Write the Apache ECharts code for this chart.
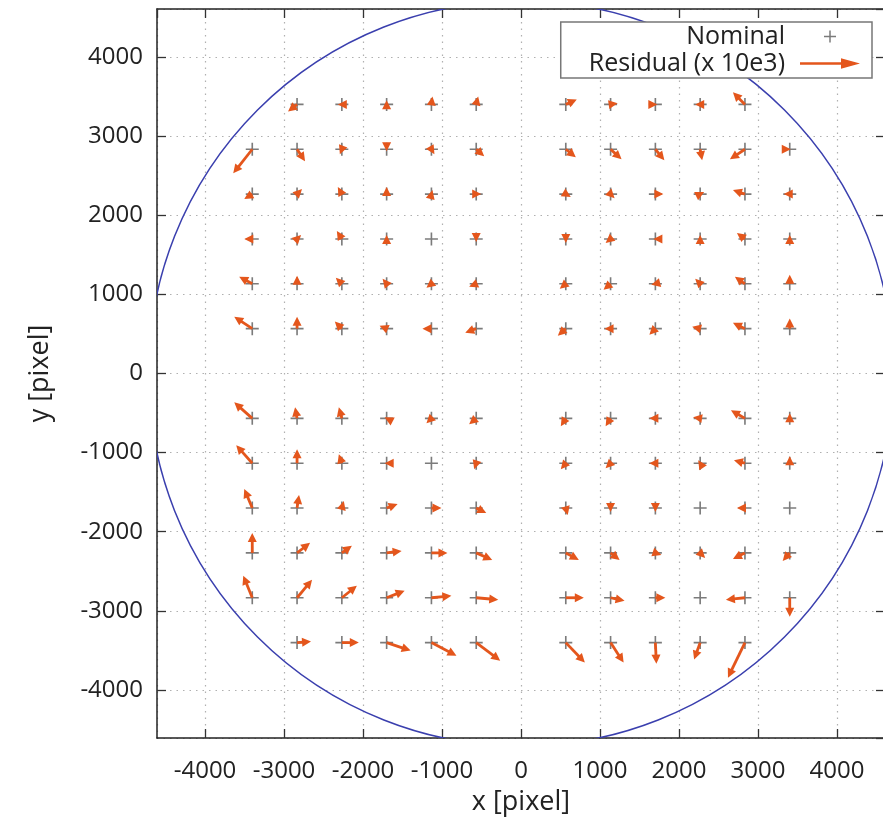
<!DOCTYPE html>
<html>
<head>
<meta charset="utf-8">
<script src="https://cdn.jsdelivr.net/npm/echarts@6/dist/echarts.min.js"></script>
<style>
  html, body { margin: 0; padding: 0; background: #fff; }
  #chart { width: 883px; height: 835px; }
</style>
</head>
<body>
<div id="chart"></div>
<script>
// nominal grid positions, same on both axes
const gridPos = [-3402, -2835, -2268, -1701, -1134, -567, 567, 1134, 1701, 2268, 2835, 3402];
// row y values, top to bottom
const rowY = [3402, 2835, 2268, 1701, 1134, 567, -567, -1134, -1701, -2268, -2835, -3402];

// residuals, already multiplied by 10e3 (axis units); null = no point there
const resX = [
  [null, -114, -51, 0, 13, 25, 139, 89, 25, -63, -152, null],
  [-241, 101, -25, 0, 38, 101, 127, 139, 114, 25, -190, 13],
  [-101, 63, -51, 0, 13, 63, 63, 51, 101, 51, -152, -76],
  [-101, 51, -63, 0, 0, 0, 0, -63, -25, 0, -101, 0],
  [-165, 0, -76, -51, -63, -89, -76, -89, -51, -63, -127, 0],
  [-228, 0, -89, -89, -114, -139, -101, -76, -76, -101, -152, 0],
  [-228, -25, -38, -25, -63, -89, -63, -63, -76, -89, -177, 0],
  [-203, 0, -38, -25, 0, -25, -63, -63, -76, -25, -139, 0],
  [-101, 25, 25, 139, 127, 127, 25, 0, 0, 0, -101, 0],
  [0, 165, 127, 190, 203, 203, 165, 114, 76, 63, -152, -89],
  [-114, 190, 190, 228, 253, 279, 228, 177, 127, 0, -241, 0],
  [null, 177, 215, 304, 317, 304, 241, 165, 13, -76, -215, null]
];
const resY = [
  [null, -89, 0, 51, 101, 101, 63, 13, 0, 0, 152, null],
  [-304, -152, -63, -25, -63, -89, -101, -127, -139, -139, -127, 0],
  [-63, 63, 89, 89, 51, 0, -38, -51, 0, 25, 51, 0],
  [0, 51, 101, 51, 0, -38, -51, -51, 0, 51, 76, 51],
  [89, 101, 76, 63, -51, -38, -63, -76, -13, 63, 89, 114],
  [152, 152, 89, 38, 0, -51, -89, 0, -76, 25, 76, 127],
  [203, 139, 139, 13, -63, -76, -101, -101, 0, 13, 101, 63],
  [228, 177, 114, 0, 0, -76, -76, -63, 0, 38, 38, 89],
  [241, 165, 89, 51, 0, -63, -89, -51, -51, 0, 0, 0],
  [253, 127, 89, 25, 0, -89, -89, -89, -25, -63, -76, -101],
  [279, 228, 152, 89, 25, -25, 0, -38, 0, 0, -25, -241],
  [null, 13, 0, -101, -165, -228, -253, -253, -266, -215, -443, null]
];

const axisMin = -4608;
const axisMax = 4608;
const circleR = 4717;

const orange = '#e4561c';
const fontFamily = '"Open Sans", "DejaVu Sans", sans-serif';
const plusIcon = 'path://M0,5.25h12v1.5h-12z M5.25,0h1.5v12h-1.5z';
const arrowIcon = 'path://M0,4h44v2.4h-44z M41,0L60,5.2L41,10.4z';

// build point lists
let nominalData = [];
let arrowData = [];
rowY.forEach((y, r) => {
  gridPos.forEach((x, c) => {
    if (resX[r][c] === null) return;
    nominalData.push([x, y]);
    arrowData.push([x, y, resX[r][c], resY[r][c]]);
  });
});

let chart = echarts.init(document.getElementById('chart'));

// shared axis settings
const axisBase = {
  type: 'value',
  min: axisMin,
  max: axisMax,
  splitNumber: 9,
  axisLine: { show: true, onZero: false, lineStyle: { color: '#222', width: 1.5 } },
  axisTick: { show: true, inside: true, length: 9, lineStyle: { color: '#333', width: 1.3 } }
};
const tickLabel = {
  fontFamily: fontFamily,
  fontSize: 24,
  color: '#222',
  showMinLabel: false,
  showMaxLabel: false,
  formatter: (v) => String(v)
};

let option = {
  animation: false,
  backgroundColor: '#fff',
  grid: { left: 157, right: -2, top: 9, bottom: 97, outerBoundsMode: 'none' },
  legend: {
    orient: 'vertical',
    right: 11,
    top: 22,
    align: 'right',
    itemWidth: 60,
    itemHeight: 12,
    itemGap: 2,
    padding: [2, 12, 2, 28],
    backgroundColor: '#fff',
    borderColor: '#777',
    borderWidth: 1.5,
    borderRadius: 0,
    textStyle: { fontFamily: fontFamily, fontSize: 25, color: '#222', padding: [0, 10, 0, 0] },
    data: [
      { name: 'Nominal', icon: plusIcon },
      { name: 'Residual (x 10e3)', icon: arrowIcon }
    ]
  },
  xAxis: [
    Object.assign({}, axisBase, {
      position: 'bottom',
      name: 'x [pixel]',
      nameLocation: 'middle',
      nameGap: 51,
      nameMoveOverlap: false,
      nameTextStyle: { fontFamily: fontFamily, fontSize: 27, color: '#222' },
      axisLabel: Object.assign({ margin: 21 }, tickLabel),
      splitLine: { show: true, lineStyle: { color: '#b0b0b0', width: 1.2, type: [1.5, 5] } }
    }),
    Object.assign({}, axisBase, {
      position: 'top',
      axisLabel: { show: false },
      splitLine: { show: false }
    })
  ],
  yAxis: [
    Object.assign({}, axisBase, {
      position: 'left',
      name: 'y [pixel]',
      nameLocation: 'middle',
      nameGap: 103,
      nameMoveOverlap: false,
      nameTextStyle: { fontFamily: fontFamily, fontSize: 27, color: '#222' },
      axisLabel: Object.assign({ margin: 14 }, tickLabel),
      splitLine: { show: true, lineStyle: { color: '#b0b0b0', width: 1.2, type: [1.5, 5] } }
    }),
    Object.assign({}, axisBase, {
      position: 'right',
      axisLabel: { show: false },
      splitLine: { show: false }
    })
  ],
  series: [
    {
      // field-of-view circle
      name: 'circle',
      type: 'custom',
      clip: true,
      silent: true,
      z: 1,
      data: [[0, 0, circleR]],
      renderItem: (params, api) => {
        let c = api.coord([api.value(0), api.value(1)]);
        let r = api.size([api.value(2), 0])[0];
        return {
          type: 'circle',
          shape: { cx: c[0], cy: c[1], r: r },
          style: { fill: 'none', stroke: '#3a3fae', lineWidth: 1.5 }
        };
      }
    },
    {
      name: 'Nominal',
      type: 'scatter',
      symbol: plusIcon,
      symbolSize: 13,
      z: 2,
      itemStyle: { color: '#5a5a5a' },
      data: nominalData
    },
    {
      name: 'Residual (x 10e3)',
      type: 'custom',
      z: 3,
      itemStyle: { color: orange },
      data: arrowData,
      renderItem: (params, api) => {
        let x = api.value(0), y = api.value(1);
        let p0 = api.coord([x, y]);
        let p1 = api.coord([x + api.value(2), y + api.value(3)]);
        let vx = p1[0] - p0[0], vy = p1[1] - p0[1];
        let len = Math.sqrt(vx * vx + vy * vy);
        if (len < 0.5) return null;
        let ux = vx / len, uy = vy / len;
        let headLen = 9, headW = 4.5;
        let bx = p1[0] - ux * headLen, by = p1[1] - uy * headLen;
        let children = [];
        if (len > headLen) {
          children.push({
            type: 'line',
            shape: { x1: p0[0], y1: p0[1], x2: bx + ux, y2: by + uy },
            style: { stroke: orange, lineWidth: 2.8 }
          });
        }
        children.push({
          type: 'polygon',
          shape: { points: [[p1[0], p1[1]], [bx - uy * headW, by + ux * headW], [bx + uy * headW, by - ux * headW]] },
          style: { fill: orange }
        });
        return { type: 'group', children: children };
      }
    }
  ]
};
chart.setOption(option);
</script>
</body>
</html>
